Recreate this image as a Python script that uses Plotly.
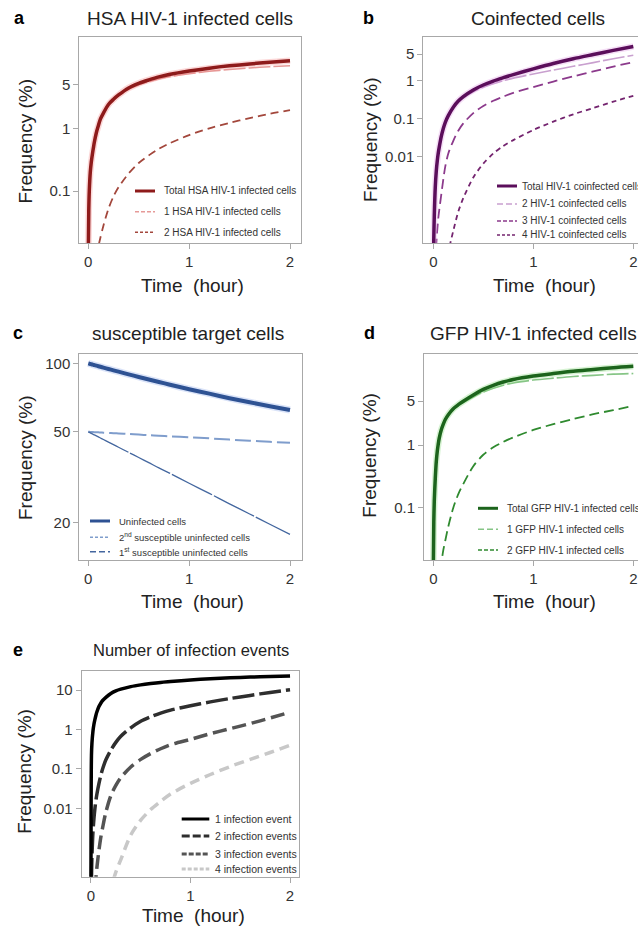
import plotly.graph_objects as go

W, H = 638, 932
FONT = "Liberation Sans, Arial, Helvetica, sans-serif"

# ---------------- data (time in hours, frequency in %) ----------------
T = [0, 0.005, 0.01, 0.02, 0.03, 0.04, 0.05, 0.06, 0.08, 0.1, 0.12, 0.15, 0.2, 0.25,
     0.3, 0.4, 0.5, 0.6, 0.7, 0.8, 1.0, 1.2, 1.4, 1.6, 1.8, 2.0]

# a  HSA HIV-1 infected cells
hsa_total = [0.01, 0.05, 0.1, 0.2, 0.29, 0.38, 0.48, 0.6, 0.85, 1.1, 1.4, 1.75, 2.4, 2.9,
             3.4, 4.4, 5.2, 5.9, 6.6, 7.2, 8.2, 9.1, 9.9, 10.6, 11.3, 11.9]
hsa_one = [0.01, 0.05, 0.1, 0.2, 0.29, 0.38, 0.48, 0.6, 0.84, 1.09, 1.38, 1.72, 2.35, 2.81,
           3.28, 4.2, 4.92, 5.53, 6.13, 6.63, 7.42, 8.1, 8.68, 9.15, 9.6, 9.95]
hsa_two = [None, None, None, None, None, None, 0.0035, 0.005, 0.009, 0.013, 0.018, 0.028,
           0.052, 0.082, 0.115, 0.19, 0.28, 0.37, 0.47, 0.57, 0.78, 1.0, 1.22, 1.45, 1.7, 1.95]

# b  Coinfected cells
co_total = [1e-5, 7e-5, 2.8e-4, 0.0016, 0.0042, 0.0078, 0.0125, 0.018, 0.034, 0.055, 0.08,
            0.12, 0.2, 0.29, 0.38, 0.57, 0.77, 0.98, 1.2, 1.45, 2.05, 2.85, 3.8, 4.9, 6.3, 8.0]
co_two = [1e-5, 7e-5, 2.8e-4, 0.0016, 0.0042, 0.0078, 0.0124, 0.0178, 0.0335, 0.054, 0.078,
          0.116, 0.19, 0.27, 0.35, 0.51, 0.67, 0.83, 1.0, 1.17, 1.5, 1.9, 2.4, 3.0, 3.8, 4.7]
co_three = [None, None, None, 1.5e-5, 5e-5, 1.2e-4, 2.4e-4, 4e-4, 0.001, 0.0025, 0.0055,
            0.012, 0.026, 0.048, 0.075, 0.14, 0.215, 0.295, 0.38, 0.48, 0.68, 0.95, 1.3,
            1.75, 2.35, 3.1]
co_four = [None, None, None, None, None, None, None, None, None, 5e-6, 1.2e-5, 3e-5, 1.1e-4,
           3.5e-4, 8e-4, 0.0028, 0.0065, 0.012, 0.019, 0.027, 0.05, 0.083, 0.13, 0.19,
           0.28, 0.4]

# c  susceptible target cells
unin = [100.0, 99.86, 99.71, 99.42, 99.15, 98.86, 98.58, 98.29, 97.74, 97.19, 96.64, 95.82,
        94.49, 93.19, 91.94, 89.5, 87.15, 84.95, 82.8, 80.8, 77.0, 73.6, 70.3, 67.45, 64.8,
        62.4]
sus_second = [50.0, 49.99, 49.97, 49.94, 49.92, 49.89, 49.86, 49.83, 49.78, 49.72, 49.67,
              49.58, 49.44, 49.3, 49.17, 48.9, 48.6, 48.35, 48.1, 47.8, 47.3, 46.8, 46.2,
              45.7, 45.2, 44.7]
sus_first = [50.0, 49.87, 49.74, 49.48, 49.23, 48.97, 48.72, 48.46, 47.96, 47.47, 46.97,
             46.24, 45.05, 43.89, 42.77, 40.6, 38.55, 36.6, 34.7, 33.0, 29.7, 26.8, 24.1,
             21.75, 19.6, 17.7]

# d  GFP HIV-1 infected cells
gfp_total = [0.01, 0.06, 0.13, 0.3, 0.55, 0.8, 1.05, 1.3, 1.75, 2.15, 2.55, 3.05, 3.8, 4.4,
             5.0, 6.3, 7.7, 8.95, 10.1, 11.1, 12.6, 13.8, 15.0, 16.0, 17.1, 18.0]
gfp_one = [0.01, 0.06, 0.13, 0.3, 0.55, 0.797, 1.045, 1.29, 1.74, 2.13, 2.52, 3.0, 3.7, 4.24,
           4.76, 5.84, 7.0, 8.03, 8.98, 9.78, 10.86, 11.65, 12.4, 12.9, 13.5, 13.8]
gfp_two = [None, None, None, None, None, 0.0033, 0.005, 0.0075, 0.013, 0.021, 0.03, 0.05,
           0.1, 0.165, 0.24, 0.46, 0.7, 0.92, 1.12, 1.32, 1.74, 2.15, 2.6, 3.1, 3.6, 4.2]

# e  Number of infection events
ev_one = [1e-4, 0.22, 0.45, 0.9, 1.35, 1.8, 2.3, 2.8, 3.8, 4.7, 5.5, 6.5, 8.2, 9.5, 10.5,
          12.2, 13.5, 14.6, 15.6, 16.4, 18.0, 19.3, 20.4, 21.3, 22.1, 22.8]
ev_two = [None, 1.5e-4, 6e-4, 0.0025, 0.0055, 0.01, 0.016, 0.023, 0.042, 0.07, 0.105, 0.17,
          0.3, 0.47, 0.67, 1.1, 1.62, 2.1, 2.6, 3.1, 4.0, 5.0, 6.1, 7.3, 8.7, 10.2]
ev_three = [None, None, None, None, None, 9e-5, 1.7e-4, 3.2e-4, 8.5e-4, 0.0019, 0.0035,
            0.008, 0.021, 0.038, 0.06, 0.112, 0.174, 0.245, 0.324, 0.41, 0.56, 0.78, 1.05,
            1.41, 1.95, 2.75]
ev_four = [None, None, None, None, None, None, None, None, None, None, None, 2.5e-5, 9e-5,
           2.4e-4, 5e-4, 0.0021, 0.005, 0.0093, 0.015, 0.023, 0.043, 0.072, 0.115, 0.174,
           0.26, 0.4]

# tick labels
x_ticks = [0, 1, 2]
x_ticktext = ["0", "1", "2"]
ya_ticks, ya_text = [0.1, 1, 5], ["0.1", "1", "5"]
yb_ticks, yb_text = [0.01, 0.1, 1, 5], ["0.01", "0.1", "1", "5"]
yc_ticks, yc_text = [20, 50, 100], ["20", "50", "100"]
yd_ticks, yd_text = [0.1, 1, 5], ["0.1", "1", "5"]
ye_ticks, ye_text = [0.01, 0.1, 1, 10], ["0.01", "0.1", "1", "10"]

# ---------------- helpers ----------------
def px(x):
    return x / W


def py(y):
    return 1 - y / H


fig = go.Figure()

FRAME = "#A8A8A8"

panels = {
    # name: (x0, x1, y_top, y_bottom, xrange, yrange(log), ticks, texts, mirror_y)
    "1": (79.3, 300.5, 37.3, 243.3, [-0.089, 2.104], [-1.834, 1.451], ya_ticks, ya_text, True),
    "2": (423.3, 638, 37.3, 243.3, [-0.1, 2.047], [-4.29, 1.145], yb_ticks, yb_text, False),
    "3": (79.3, 301.5, 354.3, 560, [-0.089, 2.114], [1.135, 2.04], yc_ticks, yc_text, True),
    "4": (424, 638, 354.3, 560, [-0.093, 2.047], [-1.834, 1.447], yd_ticks, yd_text, False),
    "5": (81.7, 299.3, 670.7, 876.7, [-0.093, 2.093], [-3.735, 1.49], ye_ticks, ye_text, True),
}

layout_axes = {}
for k, (x0, x1, yt, yb, xr, yr, tv, tt, my) in panels.items():
    xs = "xaxis" if k == "1" else "xaxis" + k
    ys = "yaxis" if k == "1" else "yaxis" + k
    layout_axes[xs] = dict(
        domain=[px(x0), min(1.0, px(x1))], range=xr, anchor="y" if k == "1" else "y" + k,
        tickvals=x_ticks, ticktext=x_ticktext, ticks="outside", ticklen=5,
        tickcolor=FRAME, showline=True, linecolor=FRAME, linewidth=1, mirror=True,
        showgrid=False, zeroline=False, tickfont=dict(size=15, color="#333", family=FONT),
    )
    layout_axes[ys] = dict(
        domain=[py(yb), py(yt)], type="log", range=yr, anchor="x" if k == "1" else "x" + k,
        tickvals=tv, ticktext=tt, ticks="outside", ticklen=5, tickcolor=FRAME,
        showline=True, linecolor=FRAME, linewidth=1, mirror=my, showgrid=False,
        zeroline=False, tickfont=dict(size=15, color="#333", family=FONT),
    )


def add(k, y, color, width, dash="solid", halo=None):
    xa = "x" if k == "1" else "x" + k
    ya = "y" if k == "1" else "y" + k
    if halo:
        fig.add_trace(go.Scatter(x=T, y=y, mode="lines", xaxis=xa, yaxis=ya,
                                 line=dict(color=halo, width=width + 3, shape="spline",
                                           smoothing=0.8),
                                 showlegend=False, hoverinfo="skip"))
    fig.add_trace(go.Scatter(x=T, y=y, mode="lines", xaxis=xa, yaxis=ya,
                             line=dict(color=color, width=width, dash=dash, shape="spline",
                                       smoothing=0.8),
                             showlegend=False))


# a
add("1", hsa_two, "#A3473C", 1.8, "8px,5px")
add("1", hsa_one, "#E69A98", 1.6, "22px,3px")
add("1", hsa_total, "#8E1B1B", 3.5, halo="rgba(245,140,140,0.35)")
# b
add("2", co_four, "#74246F", 1.8, "5px,4px")
add("2", co_three, "#8C3A8C", 1.8, "10px,5px")
add("2", co_two, "#C9A0CF", 1.6, "22px,3px")
add("2", co_total, "#5B0E5B", 3.5, halo="rgba(225,160,230,0.35)")
# c
add("3", sus_second, "#7F9DCC", 2, "16px,5px")
add("3", sus_first, "#44679F", 1.3, "45px,2px")
add("3", unin, "#2E5293", 4, halo="rgba(150,175,235,0.35)")
# d
add("4", gfp_two, "#2F8A2F", 1.8, "10px,5px")
add("4", gfp_one, "#86C586", 1.6, "22px,3px")
add("4", gfp_total, "#1C641C", 3.5, halo="rgba(140,220,130,0.35)")
# e
add("5", ev_four, "#C8C8C8", 3.5, "10px,6px")
add("5", ev_three, "#545454", 3.5, "14px,6px")
add("5", ev_two, "#2E2E2E", 3.5, "22px,5px")
add("5", ev_one, "#000000", 3.5)

annotations = []
shapes = []


def text(x, y, s, size, color="#222", bold=False, xanchor="center", angle=0):
    annotations.append(dict(
        x=px(x), y=py(y), xref="paper", yref="paper", text=("<b>%s</b>" % s) if bold else s,
        showarrow=False, xanchor=xanchor, yanchor="middle", textangle=angle,
        font=dict(size=size, color=color, family=FONT)))


# panel letters and titles
for (lx, ly, letter) in [(19, 18, "a"), (368, 18, "b"), (18, 333, "c"), (369.7, 333, "d"),
                         (18, 650, "e")]:
    text(lx, ly, letter, 18, "#000", bold=True)
text(190, 18.3, "HSA HIV-1 infected cells", 19)
text(538, 18.3, "Coinfected cells", 19)
text(187.5, 333.3, "susceptible target cells", 19)
text(428, 333.3, "GFP HIV-1 infected cells", 19, xanchor="left")
text(191, 650, "Number of infection events", 16.5)

# axis titles
for (x, y) in [(25, 141.5), (370, 140), (25, 458), (370, 455.7), (25, 771.7)]:
    text(x, y, "Frequency (%)", 19, angle=-90)
for (x, y) in [(192, 285), (544.7, 285), (192.5, 601.7), (544.7, 601.7), (193.3, 915)]:
    text(x, y, "Time\u00a0 (hour)", 19)

# legends (sample line + label)
legends = [
    (135, 155, 161.7, [191, 211.7, 232.3], 10, [
        ("Total HSA HIV-1 infected cells", "#8E1B1B", 3, "solid"),
        ("1 HSA HIV-1 infected cells", "#E69A98", 1.5, "4px,2px"),
        ("2 HSA HIV-1 infected cells", "#A3473C", 1.5, "3px,2px")]),
    (497, 517, 519.7, [186, 204, 221, 235], 10, [
        ("Total HIV-1 coinfected cells", "#5B0E5B", 3, "solid"),
        ("2 HIV-1 coinfected cells", "#C9A0CF", 1.5, "6px,3px"),
        ("3 HIV-1 coinfected cells", "#8C3A8C", 1.5, "4px,2px"),
        ("4 HIV-1 coinfected cells", "#74246F", 1.5, "3px,2px")]),
    (90, 110, 116.7, [521, 537.3, 551.7], 9.5, [
        ("Uninfected cells", "#2E5293", 3, "solid"),
        ("2<sup>nd</sup> susceptible uninfected cells", "#7F9DCC", 1.5, "3px,2px"),
        ("1<sup>st</sup> susceptible uninfected cells", "#44679F", 1.5, "6px,3px")]),
    (478, 498, 504.7, [508.3, 529.3, 550], 10, [
        ("Total GFP HIV-1 infected cells", "#1C641C", 3, "solid"),
        ("1 GFP HIV-1 infected cells", "#86C586", 1.5, "6px,3px"),
        ("2 GFP HIV-1 infected cells", "#2F8A2F", 1.5, "4px,2px")]),
    (181.7, 209.3, 213.3, [819, 836, 854, 869], 10.5, [
        ("1 infection event", "#000000", 3, "solid"),
        ("2 infection events", "#2E2E2E", 3, "8px,3px"),
        ("3 infection events", "#545454", 3, "5px,2px"),
        ("4 infection events", "#C8C8C8", 3, "4px,2px")]),
]
for (sx0, sx1, tx, rows, fs, items) in legends:
    for yy, (lab, col, wd, ds) in zip(rows, items):
        shapes.append(dict(type="line", xref="paper", yref="paper", x0=px(sx0), x1=px(sx1),
                           y0=py(yy), y1=py(yy), line=dict(color=col, width=wd, dash=ds)))
        text(tx, yy, lab, fs, color="#333", xanchor="left")

fig.update_layout(
    width=W, height=H, margin=dict(l=0, r=0, t=0, b=0),
    paper_bgcolor="white", plot_bgcolor="white", showlegend=False,
    font=dict(family=FONT, color="#222"),
    annotations=annotations, shapes=shapes, **layout_axes,
)

fig.write_html("out.html", config={"displayModeBar": False},
               post_script="document.body.style.margin='0px';")
